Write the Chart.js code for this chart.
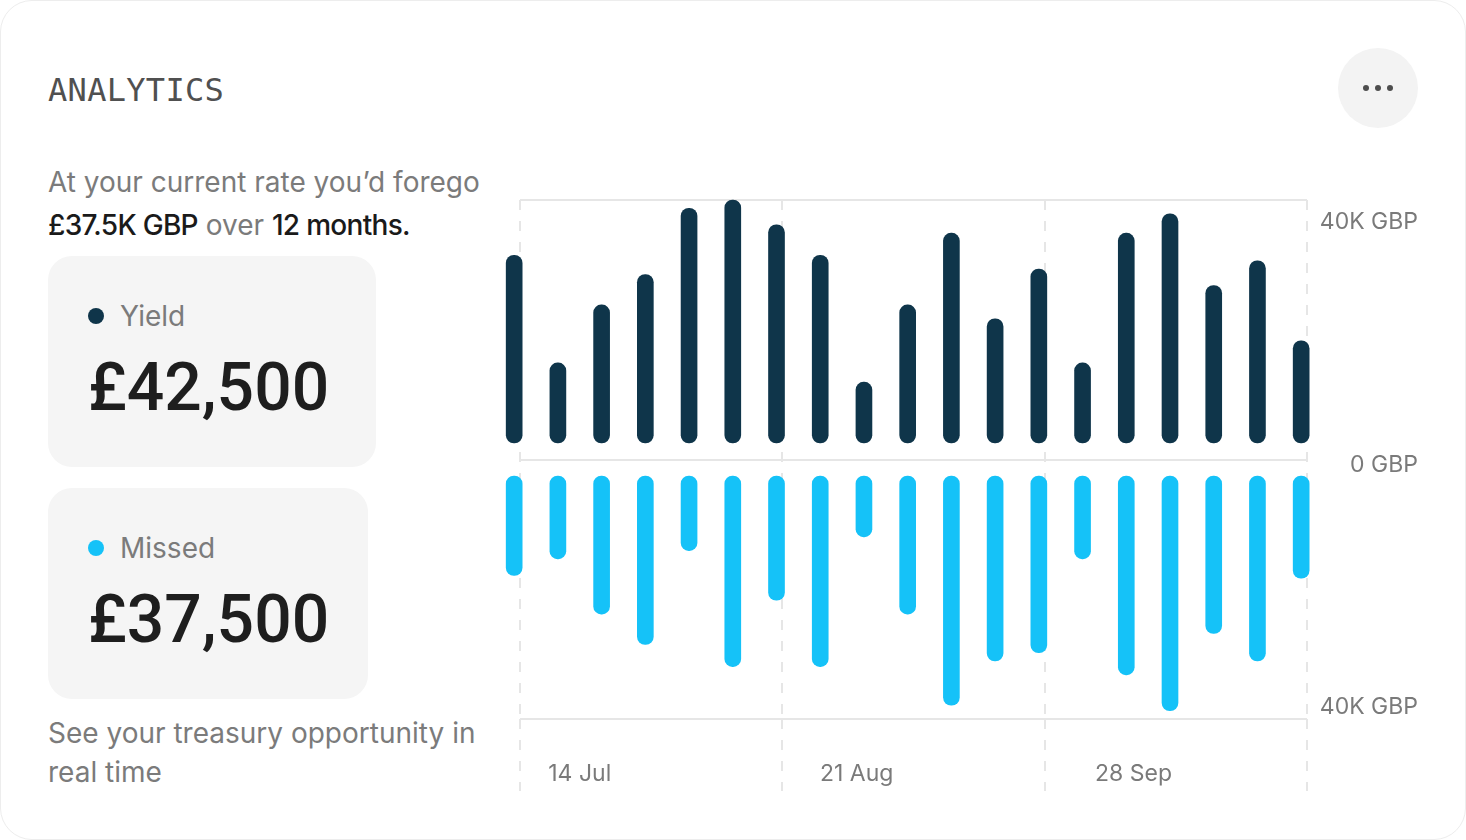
<!DOCTYPE html>
<html>
<head>
<meta charset="utf-8">
<script src="https://cdn.jsdelivr.net/npm/chart.js@4.4.0/dist/chart.umd.min.js"></script>
<style>
  html, body { margin: 0; padding: 0; background: #fff; }
  body { width: 1466px; height: 840px; position: relative; overflow: hidden; font-family: Inter, sans-serif; }
  .panel { position: absolute; left: 0; top: 0; width: 1464px; height: 838px; border: 1px solid #ededed; border-radius: 32px; background: #fff; }
  .title { position: absolute; left: 48px; top: 74px; font-family: 'DejaVu Sans Mono', monospace; font-size: 32px; line-height: 32px; letter-spacing: 0.3px; color: #505050; }
  .lead { position: absolute; left: 48px; top: 161px; font-size: 28px; line-height: 43px; color: #7b7b7b; white-space: nowrap; }
  .lead b { font-weight: 500; color: #1a1a1a; letter-spacing: -0.7px; }
  .card { position: absolute; left: 48px; height: 211px; box-sizing: border-box; padding: 44px 40px 0 40px; background: #f5f5f5; border-radius: 24px; }
  .lbl { display: flex; align-items: center; font-size: 28px; line-height: 32px; color: #7b7b7b; }
  .dot { width: 16px; height: 16px; border-radius: 50%; margin-right: 16px; }
  .num { margin-top: 21px; font-family: Roboto, sans-serif; font-weight: 500; font-size: 66px; line-height: 70px; color: #1e1e1e; white-space: nowrap; }
  .foot { position: absolute; left: 48px; top: 714px; font-size: 28px; line-height: 39px; color: #7b7b7b; white-space: nowrap; }
  .more { position: absolute; left: 1338px; top: 48px; width: 80px; height: 80px; border-radius: 50%; background: #f3f3f3; display: flex; align-items: center; justify-content: center; gap: 6px; }
  .more span { width: 6px; height: 6px; border-radius: 50%; background: #4d4d4d; }
  .chart-box { position: absolute; left: 490px; top: 180px; width: 928px; height: 615px; }
</style>
</head>
<body>
<div class="panel"></div>
<div class="title">ANALYTICS</div>
<div class="more"><span></span><span></span><span></span></div>
<div class="lead">At your current rate you’d forego<br><b>£37.5K GBP</b> over <b>12 months.</b></div>
<div class="card" style="top:256px; width:328px;">
  <div class="lbl"><span class="dot" style="background:#0f354a"></span>Yield</div>
  <div class="num">£42,500</div>
</div>
<div class="card" style="top:488px; width:320px;">
  <div class="lbl"><span class="dot" style="background:#15c2f8"></span>Missed</div>
  <div class="num">£37,500</div>
</div>
<div class="foot">See your treasury opportunity in<br>real time</div>
<div class="chart-box"><canvas id="chart" width="928" height="615"></canvas></div>

<script>
// ============================= DADOS =============================
const dates = ['2023-07-05', '2023-07-11', '2023-07-17', '2023-07-23', '2023-07-29',
  '2023-08-04', '2023-08-10', '2023-08-16', '2023-08-22', '2023-08-28',
  '2023-09-03', '2023-09-09', '2023-09-15', '2023-09-21', '2023-09-27',
  '2023-10-03', '2023-10-09', '2023-10-15', '2023-10-21']

// valores em milhares de GBP
const yieldK = [34, 14.5, 25, 30.5, 42.5, 44, 39.5, 34, 11, 25, 38, 22.5, 31.5, 14.5, 38, 41.5, 28.5, 33, 18.5]
const missedK = [18, 15, 25, 30.5, 13.5, 34.5, 22.5, 34.5, 11, 25, 41.5, 33.5, 32, 15, 36, 42.5, 28.5, 33.5, 18.5]

const tickDates = ['2023-07-14', '2023-08-21', '2023-09-28']
const tickLabels = ['14 Jul', '21 Aug', '28 Sep']
const yTicks = [40, 0, -40]

// ============================= GRÁFICO =============================
const toDay = s => Date.UTC(+s.slice(0, 4), +s.slice(5, 7) - 1, +s.slice(8, 10)) / 864e5
const days = dates.map(toDay)
const tickDays = tickDates.map(toDay)
const dayShift = 0.8

const gridColor = '#e6e6e6'
const labelColor = '#7a7a7a'
const dash = [10, 11]

Chart.defaults.font.family = 'Inter'

const barStyle = {
  barThickness: 16,
  borderRadius: 8,
  borderSkipped: false,
  grouped: false,
  clip: false,
  xAxisID: 'x'
}

const ctx = document.getElementById('chart')

new Chart(ctx, {
  type: 'bar',
  data: {
    datasets: [
      Object.assign({
        label: 'Yield',
        data: days.map((d, i) => ({ x: d, y: yieldK[i] })),
        backgroundColor: '#0f354a',
        yAxisID: 'yUp'
      }, barStyle),
      Object.assign({
        label: 'Missed',
        data: days.map((d, i) => ({ x: d, y: missedK[i] })),
        backgroundColor: '#15c2f8',
        yAxisID: 'yDown'
      }, barStyle)
    ]
  },
  options: {
    responsive: false,
    animation: false,
    layout: { padding: { left: 30, top: 20, right: 0, bottom: 0 } },
    plugins: { legend: { display: false }, tooltip: { enabled: false } },
    scales: {
      // eixo de datas (rótulos)
      x: {
        type: 'linear', position: 'bottom', weight: 1, offset: false,
        min: days[0] + dayShift, max: days[days.length - 1] + dayShift,
        grid: { display: false }, border: { display: false },
        afterBuildTicks: s => { s.ticks = tickDays.map(v => ({ value: v })) },
        ticks: {
          callback: (v, i) => tickLabels[i],
          autoSkip: false, maxRotation: 0, padding: 33,
          color: labelColor, font: { size: 23 }
        },
        afterFit: s => { s.height = 76; s.paddingLeft = 0; s.paddingRight = 0 }
      },
      // linhas verticais tracejadas
      xg: {
        type: 'category', axis: 'x', position: 'bottom', weight: 0, offset: false,
        labels: ['a', 'b', 'c', 'd'],
        ticks: { display: false, autoSkip: false },
        grid: { color: gridColor, lineWidth: 2, offset: false, tickLength: 72, tickBorderDash: dash },
        border: { display: false, dash: dash },
        afterFit: s => { s.height = 0 }
      },
      // linhas horizontais
      yg: {
        type: 'category', axis: 'y', position: 'left', offset: false,
        labels: ['a', 'b', 'c'],
        ticks: { display: false, autoSkip: false },
        grid: { color: gridColor, lineWidth: 2, offset: false, drawTicks: false },
        border: { display: false }
      },
      yUp: { type: 'linear', axis: 'y', display: false, min: -50, max: 44 },
      yDown: { type: 'linear', axis: 'y', display: false, min: -50, max: 44, reverse: true },
      yl: {
        type: 'linear', axis: 'y', position: 'right',
        min: -41.9, max: 43.6,
        grid: { display: false }, border: { display: false },
        afterBuildTicks: s => { s.ticks = yTicks.map(v => ({ value: v })) },
        ticks: {
          callback: v => v === 0 ? '0 GBP' : Math.abs(v) + 'K GBP',
          crossAlign: 'far', padding: 14,
          color: labelColor, font: { size: 23 }
        },
        afterFit: s => { s.width = 111; s.paddingTop = 0; s.paddingBottom = 0 }
      }
    }
  }
})
</script>
</body>
</html>
